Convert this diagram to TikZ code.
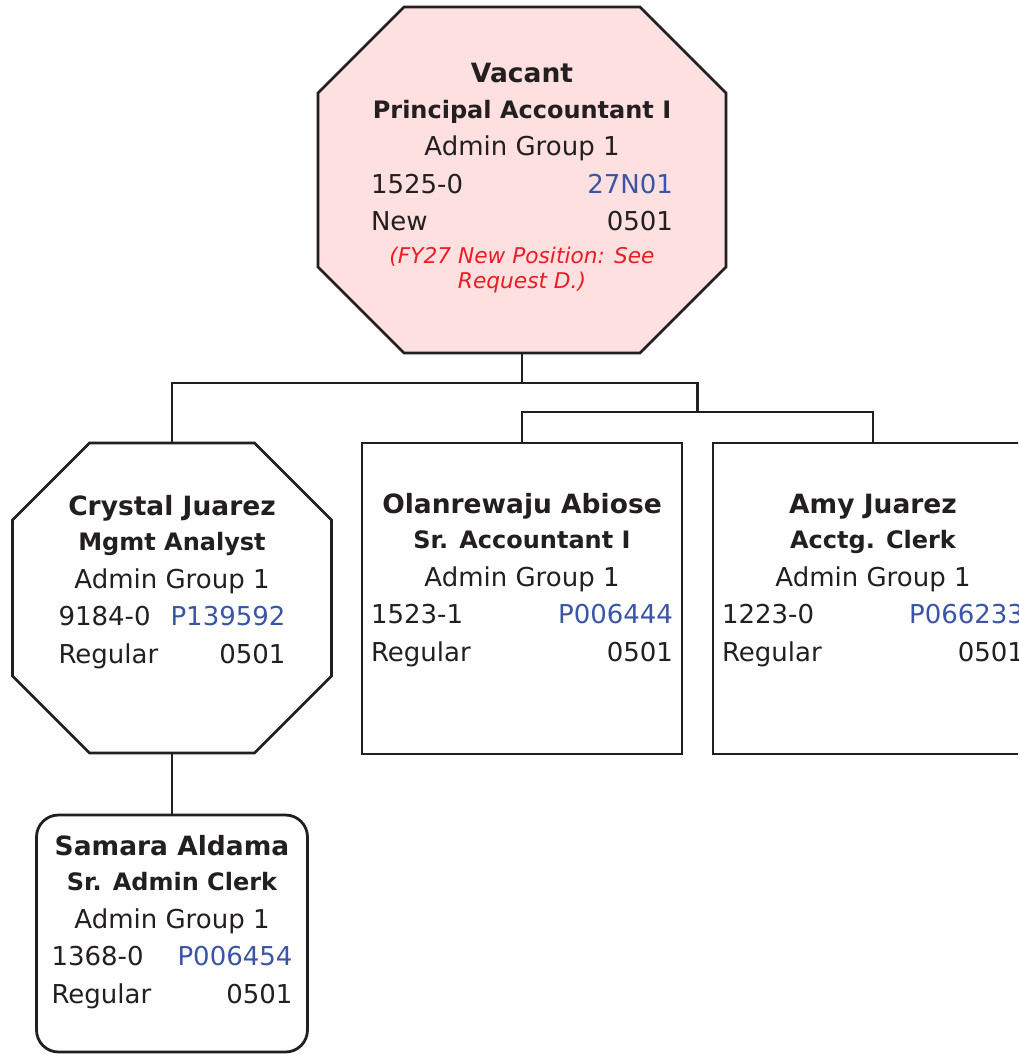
\documentclass[tikz,border=0pt]{standalone}
\usepackage{fontspec}
\setmainfont{DejaVu Sans}
\definecolor{ink}{HTML}{231F20}
\definecolor{idblue}{HTML}{3B55A6}
\definecolor{notered}{HTML}{ED1C24}
\definecolor{vacantfill}{HTML}{FDE0DF}

% one line of two fields: left-aligned and right-aligned
\newcommand\splitline[2]{\hbox to \linewidth{#1\hfil #2}}
% body of a position card: width, name, title, class, position id, status
\newcommand\cardtext[6]{%
  \begin{minipage}[t]{#1}\centering
  {\fontsize{26.5}{37.5}\selectfont\bfseries #2\par}%
  {\fontsize{24}{35.5}\selectfont\bfseries #3\par}%
  {\fontsize{26}{37.5}\selectfont Admin Group 1\par
   \splitline{#4}{\textcolor{idblue}{#5}}\par
   \splitline{#6}{0501}\par}%
  \end{minipage}}
% chamfered outline around a named node
\newcommand\octframe[3]{%
  \draw[frame,#3] ([xshift=#2]#1.north west) -- ([xshift=-#2]#1.north east)
    -- ([yshift=-#2]#1.north east) -- ([yshift=#2]#1.south east)
    -- ([xshift=-#2]#1.south east) -- ([xshift=#2]#1.south west)
    -- ([yshift=#2]#1.south west) -- ([yshift=-#2]#1.north west) -- cycle;}

\begin{document}
\begin{tikzpicture}[x=1pt,y=-1pt,
  area/.style={rectangle,inner sep=0pt,outer sep=0pt,draw=none},
  frame/.style={draw=ink,line width=2.8pt,line join=miter},
  card/.style={area,draw=ink,line width=2.8pt},
  link/.style={draw=ink,line width=2.2pt},
  words/.style={inner sep=0pt,outer sep=0pt,anchor=base,text=ink}]
\useasboundingbox (0,0) rectangle (1018,1054);
\clip (0,0) rectangle (1018,1054);

% head position (vacant)
\node[area,minimum width=408pt,minimum height=346pt] (vacant) at (522,180) {};
\octframe{vacant}{86pt}{fill=vacantfill}
\node[words] (vacant-text) at ([yshift=-76pt]vacant.north) {%
  \begin{minipage}[t]{302pt}\centering
  {\fontsize{26.5}{37.5}\selectfont\bfseries Vacant\par}%
  {\fontsize{24}{35.5}\selectfont\bfseries Principal Accountant I\par}%
  {\fontsize{26}{37.5}\selectfont Admin Group 1\par
   \splitline{1525-0}{\textcolor{idblue}{27N01}}\par
   \splitline{New}{0501}\par}%
  {\fontsize{21.7}{32}\selectfont\itshape\textcolor{notered}{(FY27 New Position: See}\par}%
  {\fontsize{21.7}{26}\selectfont\itshape\textcolor{notered}{Request D.)}\par}%
  \end{minipage}};

% second level
\node[area,minimum width=319pt,minimum height=310pt] (crystal) at (172,598) {};
\octframe{crystal}{77pt}{fill=white}
\node[words] (crystal-text) at ([yshift=-72pt]crystal.north)
  {\cardtext{227pt}{Crystal Juarez}{Mgmt Analyst}{9184-0}{P139592}{Regular}};

\node[card,minimum width=320pt,minimum height=311pt] (olan) at (522,598.5) {};
\node[words] (olan-text) at ([yshift=-70pt]olan.north)
  {\cardtext{302pt}{Olanrewaju Abiose}{Sr. Accountant I}{1523-1}{P006444}{Regular}};

\node[card,minimum width=320pt,minimum height=311pt] (amy) at (873,598.5) {};
\node[words] (amy-text) at ([yshift=-70pt]amy.north)
  {\cardtext{302pt}{Amy Juarez}{Acctg. Clerk}{1223-0}{P066233}{Regular}};

% third level
\node[card,rounded corners=22pt,minimum width=271pt,minimum height=237pt] (samara) at (172,933.5) {};
\node[words] (samara-text) at ([yshift=-40pt]samara.north)
  {\cardtext{241pt}{Samara Aldama}{Sr. Admin Clerk}{1368-0}{P006454}{Regular}};

% reporting lines
\coordinate (bus) at (0,383);
\coordinate (grp) at (697.5,412);
\draw[link] (vacant.south) -- (vacant.south |- bus) -| (crystal.north);
\draw[link] (vacant.south |- bus) -| (grp);
\draw[link] (grp) -| (olan.north);
\draw[link] (grp) -| (amy.north);
\draw[link] (crystal.south) -- (samara.north);
\end{tikzpicture}
\end{document}
